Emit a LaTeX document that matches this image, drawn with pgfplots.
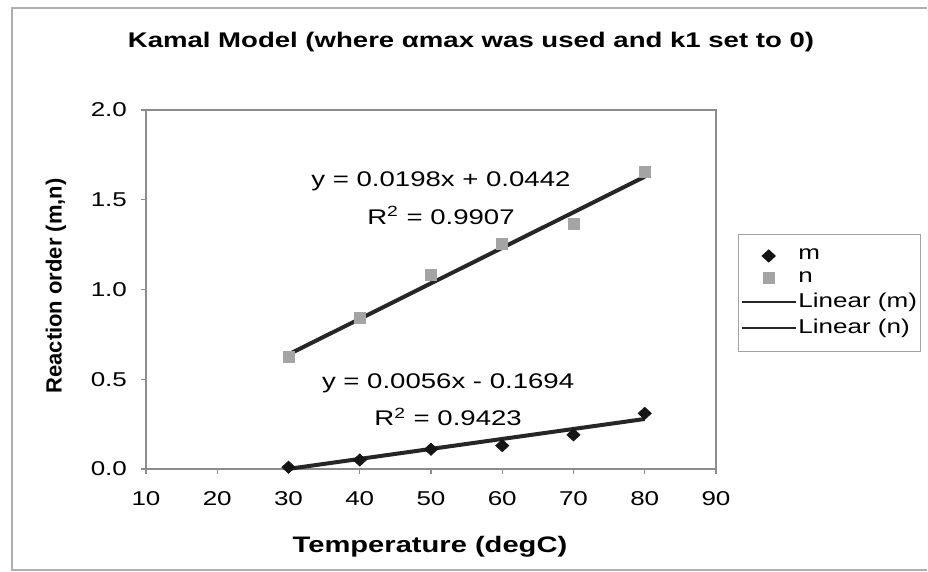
\documentclass[border=0pt]{standalone}
\usepackage{fontspec}
\setmainfont{Liberation Sans}[FakeStretch=1.3]
\newfontfamily\ylabfont{Liberation Sans}
\usepackage{pgfplots}
\pgfplotsset{compat=1.18}

\definecolor{markm}{HTML}{151515}
\definecolor{markn}{HTML}{A4A4A4}
\definecolor{fitline}{HTML}{262626}
\definecolor{frame}{HTML}{8C8C8C}

\pgfplotsset{
  markleg/.style={legend image code/.code={\draw[mark repeat=2,mark phase=2,##1] plot coordinates {(0pt,0pt)(13.5pt,0pt)(27pt,0pt)};}},
  lineleg/.style={legend image code/.code={\draw[##1, line width=1.2pt] (0pt,0pt) -- (27pt,0pt);}},
}

\begin{document}
\begin{tikzpicture}[x=0.5pt,y=0.5pt]
% page = 928 x 572 units, axis box lower-left at the origin
\path[use as bounding box] (-146,-103) rectangle (782,469);
% outer chart frame
\draw[frame!70, line width=0.6pt] (781,461) -- (-134,461) -- (-134,-101) -- (781,-101);

\node[font=\fontsize{10.6}{12}\selectfont\bfseries] at (325,427)
  {Kamal Model (where αmax was used and k1 set to 0)};
\node[font=\fontsize{11.2}{13}\selectfont\bfseries] at (284,-78) {Temperature (degC)};
\node[font=\ylabfont\fontsize{11}{13}\selectfont\bfseries, rotate=90] at (-90,183) {Reaction order (m,n)};

\begin{axis}[
  anchor=south west,
  scale only axis, width=285pt, height=179.5pt,
  xmin=10, xmax=90, ymin=0, ymax=2,
  xtick={10,20,...,90}, ytick={0,0.5,...,2},
  tick align=outside, xtick pos=bottom, ytick pos=left,
  major tick length=2.5pt,
  axis line style={frame, line width=0.6pt},
  tick style={frame, line width=0.6pt},
  /pgf/number format/assume math mode=true,
  ticklabel style={font=\fontsize{10}{11}\selectfont},
  y tick label style={xshift=-3.5pt, /pgf/number format/fixed, /pgf/number format/fixed zerofill, /pgf/number format/precision=1},
  x tick label style={yshift=-5pt},
  clip=false,
  legend style={at={(1.0386,0.6546)}, anchor=north west, draw=frame!80,
    line width=0.5pt, font=\fontsize{10}{11}\selectfont,
    inner xsep=1pt, inner ysep=6.5pt, row sep=2.6pt,
    nodes={inner sep=0.8pt}},
  legend cell align=left,
]
\addplot[only marks, mark=diamond*, mark size=3pt, color=markm,
  mark options={xscale=1.45}, markleg]
  coordinates {(30,0.01) (40,0.05) (50,0.11) (60,0.13) (70,0.19) (80,0.31)};
\addlegendentry{m}
\addplot[only marks, mark=square*, mark size=2.75pt, color=markn, markleg]
  coordinates {(30,0.624) (40,0.84) (50,1.08) (60,1.253) (70,1.365) (80,1.656)};
\addlegendentry{n}
\addplot[fitline, line width=2pt, no marks, lineleg]
  coordinates {(30,0.0006) (80,0.2786)};
\addlegendentry{Linear (m)}
\addplot[fitline, line width=2pt, no marks, lineleg]
  coordinates {(30,0.6382) (80,1.6282)};
\addlegendentry{Linear (n)}

\node[font=\fontsize{10.6}{12}\selectfont] at (axis cs:51.4,1.60) {y = 0.0198x + 0.0442};
\node[font=\fontsize{10.6}{12}\selectfont] at (axis cs:51.4,1.415) {R\textsuperscript{2} = 0.9907};
\node[font=\fontsize{10.6}{12}\selectfont] at (axis cs:52.4,0.479) {y = 0.0056x - 0.1694};
\node[font=\fontsize{10.6}{12}\selectfont] at (axis cs:52.4,0.29) {R\textsuperscript{2} = 0.9423};
\end{axis}
\end{tikzpicture}
\end{document}
